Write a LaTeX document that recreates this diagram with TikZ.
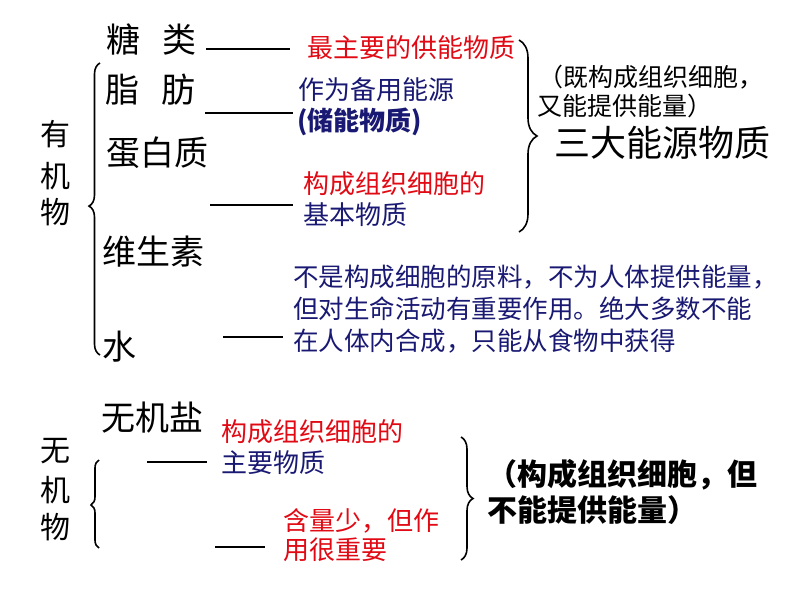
\documentclass[tikz,border=0pt]{standalone}
\usepackage{fontspec}
\setmainfont{Noto Sans CJK SC}
\usetikzlibrary{decorations.pathreplacing}
\definecolor{myred}{RGB}{225,10,20}
\definecolor{mynavy}{RGB}{25,25,115}
\begin{document}
\begin{tikzpicture}[x=1pt,y=-1pt,
  big/.style={anchor=west,inner sep=0pt,font={\fontsize{34}{40}\selectfont}},
  vert/.style={inner sep=0pt,font={\fontsize{30}{36}\selectfont}},
  ann/.style={anchor=west,inner sep=0pt,font={\fontsize{26}{30}\selectfont}},
  note/.style={anchor=west,inner sep=0pt,text=mynavy,font={\fontsize{25.5}{30}\selectfont}},
  side/.style={anchor=west,inner sep=0pt,font={\fontsize{25}{30}\selectfont}},
  sideb/.style={anchor=west,inner sep=0pt,font={\fontsize{30}{36}\selectfont\bfseries}},
  dashline/.style={line width=1.6pt},
  bracestyle/.style={line width=1.6pt,decorate,decoration={brace,amplitude=#1}}
]
\useasboundingbox (0,0) rectangle (794,596);
\fill[white] (0,0) rectangle (794,596);

% main items
\node[big] (tang) at (106,40) {糖\hspace{0.65em}类};
\node[big] (zhi)  at (105,90) {脂\hspace{0.65em}肪};
\node[big] (dan)  at (106,153) {蛋白质};
\node[big] (wei)  at (102,252) {维生素};
\node[big] (shui) at (102,347) {水};
\node[big] (yan)  at (101,418) {无机盐};

% vertical labels
\node[vert] (y1) at (55,134) {有};
\node[vert] (y2) at (55,176) {机};
\node[vert] (y3) at (55,212) {物};
\node[vert] (w1) at (55,451) {无};
\node[vert] (w2) at (55,490) {机};
\node[vert] (w3) at (55,527) {物};

% braces
\coordinate (lb1) at (100,355); \coordinate (lt1) at (100,63);
\draw[bracestyle=11pt,decoration={aspect=0.51}] (lb1) -- (lt1);
\coordinate (lb2) at (99,548); \coordinate (lt2) at (99,460);
\draw[bracestyle=8pt,decoration={aspect=0.49}] (lb2) -- (lt2);
\coordinate (rt1) at (519,40); \coordinate (rb1) at (519,232);
\draw[bracestyle=18pt,decoration={aspect=0.5}] (rt1) -- (rb1);
\coordinate (rt2) at (461,437); \coordinate (rb2) at (461,560);
\draw[bracestyle=12pt,decoration={aspect=0.5}] (rt2) -- (rb2);

% dashes
\coordinate (d1a) at (206,49);  \coordinate (d1b) at (290,49);
\coordinate (d2a) at (205,113); \coordinate (d2b) at (293,113);
\coordinate (d3a) at (210,205); \coordinate (d3b) at (293,205);
\coordinate (d4a) at (223,337); \coordinate (d4b) at (283,337);
\coordinate (d5a) at (147,462); \coordinate (d5b) at (207,462);
\coordinate (d6a) at (215,547); \coordinate (d6b) at (265,547);
\draw[dashline] (d1a) -- (d1b);
\draw[dashline] (d2a) -- (d2b);
\draw[dashline] (d3a) -- (d3b);
\draw[dashline] (d4a) -- (d4b);
\draw[dashline] (d5a) -- (d5b);
\draw[dashline] (d6a) -- (d6b);

% annotations
\node[ann,text=myred]  (a1) at (307,48)  {最主要的供能物质};
\node[ann,text=mynavy] (a2) at (298,90)  {作为备用能源};
\node[ann,text=mynavy,font={\fontsize{26}{30}\selectfont\bfseries}] (a3) at (297,122) {(储能物质)};
\node[ann,text=myred]  (a4) at (303,184) {构成组织细胞的};
\node[ann,text=mynavy] (a5) at (303,215) {基本物质};

\node[note] (n1) at (293,277) {不是构成细胞的原料，不为人体提供能量，};
\node[note] (n2) at (293,309) {但对生命活动有重要作用。绝大多数不能};
\node[note] (n3) at (293,341) {在人体内合成，只能从食物中获得};

\node[ann,text=myred]  (b1) at (221,432) {构成组织细胞的};
\node[ann,text=mynavy] (b2) at (221,463) {主要物质};
\node[ann,text=myred]  (b3) at (283,521) {含量少，但作};
\node[ann,text=myred]  (b4) at (283,550) {用很重要};

% right side
\node[side] (s1) at (538,77)  {（既构成组织细胞，};
\node[side] (s2) at (537,106) {又能提供能量）};
\node[anchor=west,inner sep=0pt,font={\fontsize{36}{42}\selectfont}] (s3) at (554,143) {三大能源物质};

\node[sideb] (t1) at (487,475) {（构成组织细胞，但};
\node[sideb] (t2) at (487,510) {不能提供能量）};
\end{tikzpicture}
\end{document}
